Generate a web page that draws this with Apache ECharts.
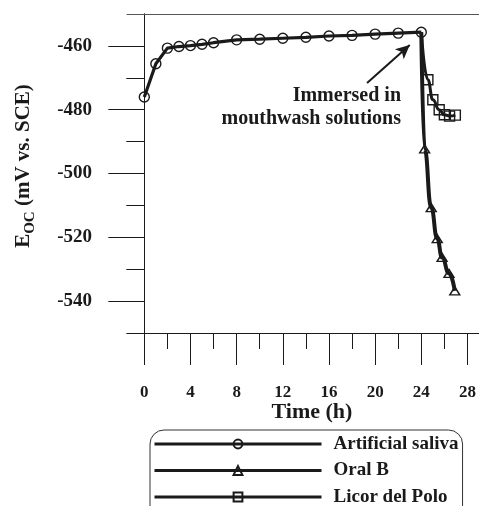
<!DOCTYPE html>
<html>
<head>
<meta charset="utf-8">
<script src="https://cdn.jsdelivr.net/npm/echarts@6/dist/echarts.min.js"></script>
<style>
  html, body { margin: 0; padding: 0; background: #fff; }
  #chart { width: 479px; height: 506px; }
</style>
</head>
<body>
<div id="chart"></div>
<script>
// Open-circuit potential vs. time, before and after immersion in mouthwash
const timeSaliva = [0, 1, 2, 3, 4, 5, 6, 8, 10, 12, 14, 16, 18, 20, 22, 24];
const eocSaliva = [-476, -465.6, -460.7, -460.2, -459.9, -459.5, -459, -458.1, -457.9, -457.6, -457.3, -456.9, -456.7, -456.3, -456, -455.7];

const timeOralB = [24, 24.29, 24.86, 25.38, 25.8, 26.4, 26.9];
const eocOralB = [-455.7, -492.3, -510.7, -520.4, -526.3, -531.3, -536.8];

const timeLicor = [24, 24.57, 25.0, 25.55, 26.0, 26.45, 26.95];
const eocLicor = [-455.7, -470.6, -476.9, -480, -481.6, -482.0, -481.7];

const majorTimeTicks = [0, 4, 8, 12, 16, 20, 24, 28];
const minorTimeTicks = [2, 6, 10, 14, 18, 22, 26];
const majorEocTicks = [-540, -520, -500, -480, -460];
const minorEocTicks = [-530, -510, -490, -470];

// Annotation arrow (time, potential)
const arrowFrom = [19.3, -471.6];
const arrowTo = [23.0, -459.7];

const serif = '"Liberation Serif", "Times New Roman", serif';
const ink = '#1a1a1a';

function pairs(xs, ys, firstHidden) {
  return xs.map((x, i) => (firstHidden && i === 0)
    ? { value: [x, ys[i]], symbol: 'none' }
    : [x, ys[i]]);
}

const hollow = { color: 'transparent', borderColor: ink, borderWidth: 1.4 };

const chart = echarts.init(document.getElementById('chart'));
chart.setOption({
  animation: false,
  backgroundColor: '#fff',
  grid: { left: 127, right: 0, top: 14, bottom: 173 },
  xAxis: [
    {
      type: 'value', min: -1.5, max: 29, position: 'bottom',
      axisLine: { show: true, onZero: false, lineStyle: { color: ink, width: 1 } },
      axisTick: { show: true, customValues: majorTimeTicks, length: 32, lineStyle: { color: ink, width: 1 } },
      axisLabel: { customValues: majorTimeTicks, margin: 51, fontSize: 17, fontWeight: 'bold', fontFamily: serif, color: ink },
      splitLine: { show: false }
    },
    {
      type: 'value', min: -1.5, max: 29, position: 'bottom',
      axisLine: { show: true, onZero: false, lineStyle: { color: ink, width: 1 } },
      axisTick: { show: true, customValues: minorTimeTicks, length: 16, lineStyle: { color: ink, width: 1 } },
      axisLabel: { show: false },
      splitLine: { show: false }
    },
    {
      type: 'value', min: -1.5, max: 29, position: 'top',
      axisLine: { show: true, onZero: false, lineStyle: { color: '#555', width: 1 } },
      axisTick: { show: false },
      axisLabel: { show: false },
      splitLine: { show: false }
    }
  ],
  yAxis: [
    {
      type: 'value', min: -550, max: -450, position: 'left',
      axisLine: { show: true, onZero: true, lineStyle: { color: ink, width: 1 } },
      axisTick: { show: true, customValues: majorEocTicks, length: 36, lineStyle: { color: ink, width: 1 } },
      axisLabel: { customValues: majorEocTicks, margin: 35, fontSize: 19, fontWeight: 'bold', fontFamily: serif, color: ink },
      splitLine: { show: false }
    },
    {
      type: 'value', min: -550, max: -450, position: 'left',
      axisLine: { show: true, onZero: true, lineStyle: { color: ink, width: 1 } },
      axisTick: { show: true, customValues: minorEocTicks, length: 18, lineStyle: { color: ink, width: 1 } },
      axisLabel: { show: false },
      splitLine: { show: false }
    }
  ],
  legend: {
    orient: 'vertical', left: 150, top: 430, height: 100,
    padding: [4, 4, 14, 3], itemGap: 6.5,
    itemWidth: 167, itemHeight: 11,
    borderColor: '#333', borderWidth: 1, borderRadius: 14,
    align: 'left',
    lineStyle: { width: 3 },
    textStyle: { fontFamily: serif, fontWeight: 'bold', fontSize: 19, color: ink, lineHeight: 20, padding: [0, 0, 0, 7] },
    data: ['Artificial saliva', 'Oral B', 'Licor del Polo']
  },
  series: [
    {
      name: 'Artificial saliva', type: 'line',
      data: pairs(timeSaliva, eocSaliva, false),
      symbol: 'circle', symbolSize: 10,
      lineStyle: { color: ink, width: 3.2 },
      itemStyle: hollow,
      z: 3,
      markLine: {
        silent: true,
        symbol: ['none', 'arrow'], symbolSize: [10, 14],
        lineStyle: { color: ink, width: 2, type: 'solid' },
        label: { show: false },
        data: [[{ coord: arrowFrom }, { coord: arrowTo }]]
      }
    },
    {
      name: 'Oral B', type: 'line',
      data: pairs(timeOralB, eocOralB, true),
      symbol: 'triangle', symbolSize: [10, 8],
      smooth: 0.5, smoothMonotone: 'x',
      lineStyle: { color: ink, width: 4 },
      itemStyle: hollow,
      z: 2
    },
    {
      name: 'Licor del Polo', type: 'line',
      data: pairs(timeLicor, eocLicor, true),
      symbol: 'rect', symbolSize: 10,
      smooth: 0.5, smoothMonotone: 'x',
      lineStyle: { color: ink, width: 3 },
      itemStyle: hollow,
      z: 2
    }
  ],
  graphic: [
    {
      type: 'text', x: 24, y: 166, rotation: Math.PI / 2,
      style: {
        text: '{e|E}{s|OC}{e| (mV vs. SCE)}',
        align: 'center', verticalAlign: 'middle',
        rich: {
          e: { fontSize: 21, fontWeight: 'bold', fontFamily: serif, fill: ink, lineHeight: 28 },
          s: { fontSize: 15, fontWeight: 'bold', fontFamily: serif, fill: ink, lineHeight: 28, verticalAlign: 'bottom' }
        }
      }
    },
    {
      type: 'text', x: 312, y: 412,
      style: { text: 'Time (h)', font: 'bold 22px ' + serif, fill: ink, align: 'center', verticalAlign: 'middle' }
    },
    {
      type: 'text', x: 401, y: 84.5,
      style: { text: 'Immersed in\nmouthwash solutions', font: 'bold 20px ' + serif, fill: ink, align: 'right', verticalAlign: 'top', lineHeight: 23 }
    }
  ]
});
</script>
</body>
</html>
